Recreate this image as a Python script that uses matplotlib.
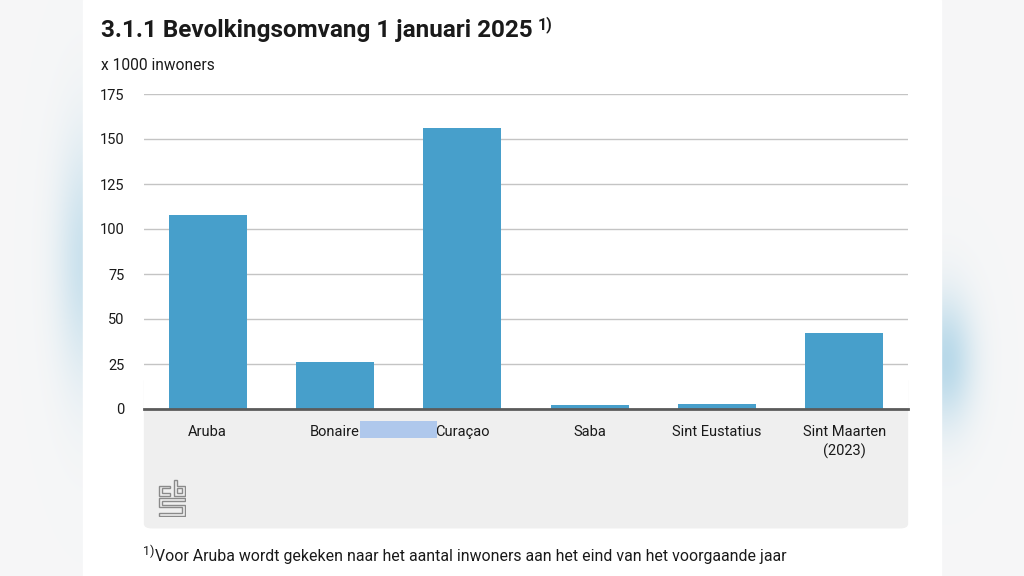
#!/usr/bin/env python3
"""Bevolkingsomvang Caribisch deel van het Koninkrijk, 1 januari 2025."""

import numpy as np
import matplotlib
matplotlib.use("Agg")
import matplotlib.pyplot as plt
from matplotlib.patches import FancyBboxPatch, Rectangle, Polygon

CATEGORIES = ["Aruba", "Bonaire", "Curaçao", "Saba", "Sint Eustatius", "Sint Maarten\n(2023)"]
POPULATION = [108, 26, 156, 2, 3, 42]  # x 1000 inwoners
Y_TICKS = [0, 25, 50, 75, 100, 125, 150, 175]

TITLE = "3.1.1 Bevolkingsomvang 1 januari 2025"
SUBTITLE = "x 1000 inwoners"
FOOTNOTE = "Voor Aruba wordt gekeken naar het aantal inwoners aan het eind van het voorgaande jaar"

BAR_COLOR = "#479fcb"
TEXT_COLOR = "#1a1a1a"
FONT = ["Roboto", "DejaVu Sans"]

W, H = 1024, 576


def fx(px):
    return px / W


def fy(py):
    return 1 - py / H


plt.rcParams["font.family"] = FONT

fig = plt.figure(figsize=(10.24, 5.76), dpi=100)

# blurred backdrop behind the white page
bg = fig.add_axes([0, 0, 1, 1], zorder=-5)
yy, xx = np.mgrid[0:H, 0:W]
img = np.ones((H, W, 3)) * np.array([0.965, 0.967, 0.970])
blue = np.array([0.70, 0.84, 0.91])
for cx, cy, sx, sy, a in [(85, 260, 20, 85, 0.65), (945, 360, 20, 45, 0.9)]:
    g = a * np.exp(-((xx - cx) ** 2 / (2 * sx ** 2) + (yy - cy) ** 2 / (2 * sy ** 2)))
    img = img * (1 - g[..., None]) + blue * g[..., None]
bg.imshow(img, extent=(0, 1, 0, 1), aspect="auto")
bg.set_axis_off()
bg.add_patch(Rectangle((fx(83), 0), fx(941) - fx(83), 1, color="white", transform=bg.transAxes))

# grey label panel with rounded bottom corners
fig.patches.append(FancyBboxPatch((fx(150), fy(525)), fx(902) - fx(150), fy(380) - fy(525),
                                  boxstyle="round,pad=0.006,rounding_size=0.008",
                                  transform=fig.transFigure, facecolor="#efefef",
                                  edgecolor="none", zorder=-1))

ax = fig.add_axes([fx(144), fy(409), fx(908) - fx(144), fy(94) - fy(409)])
x = np.arange(len(CATEGORIES))
ax.bar(x, POPULATION, width=0.61, color=BAR_COLOR, zorder=3)
ax.set_xlim(-0.5, len(CATEGORIES) - 0.5)
ax.set_ylim(0, 175)
ax.set_yticks(Y_TICKS)
ax.set_xticks(x)
ax.set_xticklabels(CATEGORIES, fontsize=10.5, color=TEXT_COLOR, linespacing=1.4)
ax.tick_params(axis="y", length=0, pad=14, labelsize=10.5, labelcolor=TEXT_COLOR)
ax.tick_params(axis="x", length=0, pad=11.5)
ax.grid(axis="y", color="#c4c4c4", linewidth=1.0, zorder=0)
for side in ["top", "right", "left"]:
    ax.spines[side].set_visible(False)
ax.spines["bottom"].set_color("#5b5b5b")
ax.spines["bottom"].set_linewidth(2.0)
ax.spines["bottom"].set_zorder(4)

# selection highlight between Bonaire and Curaçao labels
fig.patches.append(Rectangle((fx(360), fy(438)), fx(437) - fx(360), fy(421) - fy(438),
                             transform=fig.transFigure, facecolor="#afc8ec", edgecolor="none", zorder=2))

# titles
title = fig.text(fx(101), fy(31), TITLE, fontsize=17.5, fontweight="bold", color=TEXT_COLOR, va="center")
fig.canvas.draw()
bb = title.get_window_extent()
fig.text(bb.x1 / W + fx(5), fy(25), "1)", fontsize=11.5, fontweight="bold", color=TEXT_COLOR, va="center")
fig.text(fx(101), fy(65), SUBTITLE, fontsize=11.2, color=TEXT_COLOR, va="center")

# footnote
fig.text(fx(143), fy(551), "1)", fontsize=9, color=TEXT_COLOR, va="center")
fig.text(fx(155), fy(557), FOOTNOTE, fontsize=11.4, color=TEXT_COLOR, va="center")

# simple cbs logo outline
logo = fig.add_axes([fx(158), fy(517), fx(186) - fx(158), fy(479) - fy(517)])
logo.set_xlim(0, 10)
logo.set_ylim(0, 14)
logo.set_axis_off()
lc = dict(facecolor="none", edgecolor="#8a8a8a", linewidth=1.0)
logo.add_patch(Polygon([(4.3, 11.6), (0.3, 11.6), (0.3, 7.9), (4.3, 7.9), (4.3, 8.9),
                        (1.4, 8.9), (1.4, 10.6), (4.3, 10.6)], closed=True, **lc))
logo.add_patch(Polygon([(5.7, 13.7), (5.7, 7.9), (9.7, 7.9), (9.7, 11.6), (6.8, 11.6),
                        (6.8, 13.7)], closed=True, **lc))
logo.add_patch(Rectangle((6.8, 8.9), 1.9, 1.7, **lc))
logo.add_patch(Polygon([(0.3, 7.0), (9.7, 7.0), (9.7, 6.0), (1.4, 6.0), (1.4, 4.6), (9.7, 4.6),
                        (9.7, 0.3), (0.3, 0.3), (0.3, 1.3), (8.6, 1.3), (8.6, 3.6), (0.3, 3.6)],
                       closed=True, **lc))

fig.savefig("out.png", dpi=100)
